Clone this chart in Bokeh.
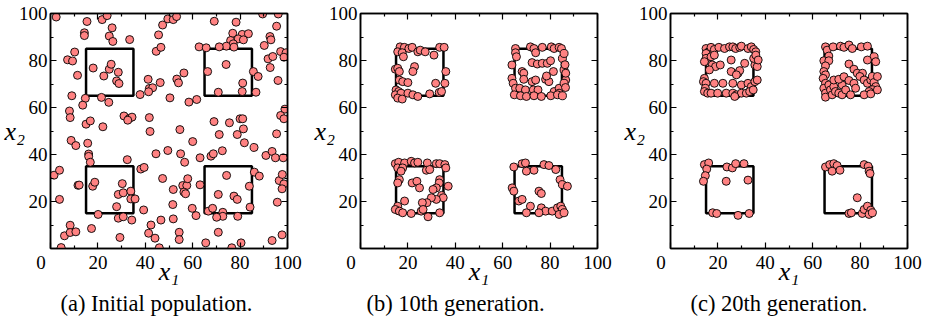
from bokeh.plotting import figure
from bokeh.models import Range1d, LinearAxis, FixedTicker, Title
from bokeh.layouts import row
from bokeh.embed import file_html
from bokeh.resources import INLINE

# ---------------- data ----------------
# (a) initial population
a_x = [2.4, 15.4, 21.8, 23.9, 26.0, 14.3, 14.3, 24.8, 26.3, 33.4,
       10.2, 7.2, 9.3, 11.4, 18.0, 22.5, 24.8, 25.6, 28.6, 27.9,
       28.9, 9.0, 14.7, 21.5, 24.6, 13.6, 8.0, 8.3, 15.0, 16.8,
       22.1, 31.0, 33.2, 34.4, 32.6, 41.7, 37.8, 41.2, 41.7, 43.1,
       41.4, 46.3, 44.6, 46.6, 45.6, 47.3, 49.5, 42.0,
       8.7, 10.7, 15.7, 16.1, 16.1, 16.8, 32.4, 38.1, 39.5, 44.5, 49.5,
       1.5, 3.8, 11.6, 12.1, 17.8, 18.7, 3.8, 30.3, 28.6, 30.7, 33.9, 33.9, 35.7,
       27.9, 20.1, 28.6, 30.7, 34.3, 39.3, 17.3, 8.3, 5.9, 8.3, 10.7, 4.5,
       29.3, 42.4, 41.4, 44.1, 46.6, 45.9, 47.3,
       51.8, 53.2, 69.1, 78.3, 89.5, 96.1, 95.4, 76.9, 80.9, 83.5,
       76.0, 79.2, 81.4, 77.1, 74.2, 77.4, 71.2, 62.7, 65.7, 90.2,
       92.6, 93.0, 97.1, 99.4, 91.8, 93.8, 92.7, 98.5, 66.3, 74.1,
       85.6, 87.6, 81.1, 70.8, 80.9, 86.7, 96.0, 50.4, 58.4, 61.7,
       98.9, 97.1, 98.5, 69.0, 75.5, 80.0, 81.1, 81.4, 54.6, 53.3,
       54.0, 56.3,
       71.2, 78.8, 95.4, 60.0, 81.8, 85.9, 54.9, 56.6, 63.1, 67.7,
       68.7, 72.5, 90.9, 93.5, 94.9, 98.2, 51.8, 55.8, 57.5, 56.3,
       57.9, 63.1, 74.3, 70.8, 77.4, 78.8, 83.9, 86.0, 88.1, 96.5,
       97.8, 98.5, 97.7, 95.7, 84.2, 66.6, 68.4, 72.7, 72.7, 70.1,
       79.0, 51.6, 61.4, 59.8, 54.3, 54.3, 70.8, 65.5, 76.5, 80.4,
       93.5, 97.7, 51.8, 57.0]
a_y = [98.5, 96.6, 97.4, 99.1, 93.9, 91.8, 90.6, 90.4, 88.1, 88.9,
       83.6, 80.3, 79.8, 73.7, 76.8, 73.4, 76.3, 78.4, 75.0, 71.3,
       70.2, 65.0, 63.9, 64.3, 62.2, 61.0, 58.5, 55.7, 52.9, 54.3,
       51.8, 56.4, 55.3, 55.9, 54.6, 55.7, 65.5, 72.0, 68.1, 68.4,
       66.7, 70.6, 83.9, 85.6, 90.9, 95.1, 97.7, 49.8,
       46.0, 43.8, 44.8, 40.2, 39.2, 36.7, 37.8, 33.8, 34.5, 40.3, 41.7,
       31.2, 33.3, 26.9, 27.0, 26.5, 28.2, 20.9, 27.6, 23.0, 23.7, 24.4, 21.1, 21.1,
       17.8, 14.5, 12.9, 13.5, 12.1, 16.4, 8.5, 9.9, 5.4, 6.8, 7.1, 0.4,
       4.7, 10.0, 6.5, 4.4, 12.1, 0.3, 29.8,
       97.4, 98.7, 96.7, 96.3, 99.8, 99.8, 94.6, 91.6, 91.1, 91.4,
       88.5, 89.2, 88.8, 87.1, 86.1, 85.7, 85.8, 85.8, 85.4, 86.4,
       90.2, 88.8, 83.8, 83.3, 80.7, 81.7, 77.0, 81.4, 75.3, 78.3,
       75.3, 73.2, 70.4, 66.5, 66.8, 66.5, 71.5, 64.1, 62.3, 63.4,
       59.3, 56.6, 55.2, 54.0, 53.5, 55.2, 55.2, 50.9, 50.6, 72.1,
       70.5, 74.7,
       48.5, 48.5, 48.8, 45.5, 45.0, 43.0, 40.3, 36.7, 38.6, 39.3,
       40.3, 41.6, 39.6, 41.3, 38.6, 38.6, 25.1, 26.8, 26.8, 24.0,
       29.7, 27.1, 31.1, 23.0, 22.3, 20.9, 26.5, 32.5, 30.8, 28.9,
       31.5, 27.5, 25.4, 19.7, 17.6, 15.9, 17.1, 15.4, 13.7, 13.3,
       13.7, 18.7, 14.0, 17.1, 6.9, 3.8, 6.9, 2.4, 0.3, 2.4,
       3.4, 5.8, 12.6, 23.3]

# (b) 10th generation
b_x = [16.7, 15.7, 18.5, 17.6, 18.1, 20.4, 21.8, 24.2, 25.2, 27.3,
       33.4, 35.3, 31.0, 14.7, 15.7, 16.4, 22.8, 22.1, 36.0, 16.4,
       17.8, 20.0, 31.7, 35.6, 15.0, 16.1, 14.7, 17.1, 15.7, 17.6,
       20.0, 22.1, 24.2, 29.2, 33.2, 34.2,
       65.4, 65.4, 65.8, 71.7, 73.2, 73.9, 76.7, 80.5, 81.7, 83.8,
       84.8, 85.2, 72.4, 74.6, 76.7, 78.8, 80.2, 81.4, 85.9, 63.9,
       68.2, 68.9, 68.9, 72.4, 73.9, 78.1, 79.5, 78.5, 63.9, 64.4,
       65.4, 67.2, 69.6, 72.9, 74.9, 81.7, 83.8, 83.8, 86.6, 85.9,
       64.9, 67.5, 70.0, 73.2, 76.3, 80.3, 83.1, 85.2, 86.6, 85.9,
       86.3, 86.5,
       14.7, 16.1, 18.6, 21.4, 22.8, 24.2, 28.2, 32.0, 33.4, 35.6,
       36.0, 15.7, 17.8, 17.1, 27.8, 29.2, 16.4, 15.7, 21.8, 23.8,
       24.9, 33.4, 33.2, 32.0, 30.6, 37.0, 34.2, 34.9, 32.0, 29.9,
       28.0, 26.1, 18.6, 15.7, 14.7, 16.4, 17.8, 21.4, 25.6, 26.4,
       28.5, 33.4,
       64.7, 68.2, 69.6, 73.2, 70.0, 77.4, 79.5, 82.4, 64.0, 64.7,
       75.3, 76.3, 66.8, 68.2, 71.7, 70.0, 76.3, 78.1, 80.9, 83.1,
       84.5, 85.2, 83.8, 85.9, 75.3, 84.2, 85.2, 87.3]
b_y = [85.8, 83.7, 85.6, 83.3, 81.6, 85.1, 85.6, 83.7, 84.4, 83.7,
       85.6, 85.6, 82.3, 76.3, 76.7, 75.3, 77.4, 75.3, 75.3, 71.7,
       71.0, 70.6, 70.3, 70.3, 67.5, 66.8, 65.4, 66.1, 64.0, 63.6,
       66.1, 65.4, 64.7, 65.8, 66.4, 66.8,
       85.1, 83.3, 81.6, 85.8, 85.1, 83.3, 85.6, 85.8, 85.1, 85.6,
       85.1, 80.9, 79.1, 78.5, 78.8, 78.8, 79.9, 75.3, 76.0, 78.1,
       75.3, 74.6, 72.0, 71.0, 71.7, 72.0, 71.0, 73.4, 72.4, 70.3,
       68.2, 68.2, 67.5, 67.5, 67.5, 66.8, 68.2, 66.1, 71.7, 70.3,
       65.4, 65.0, 64.7, 65.0, 64.7, 65.0, 65.4, 65.0, 74.6, 83.0,
       78.2, 68.5,
       36.1, 36.7, 36.4, 37.1, 36.4, 36.7, 36.4, 36.1, 36.1, 35.7,
       34.3, 34.3, 34.3, 32.9, 33.3, 33.6, 29.3, 27.9, 27.9, 28.6,
       25.8, 29.3, 27.9, 25.8, 25.1, 26.5, 22.6, 21.6, 20.9, 21.6,
       19.5, 19.5, 20.2, 18.0, 16.6, 15.9, 15.2, 14.9, 15.9, 16.6,
       13.5, 15.2,
       34.7, 36.1, 36.4, 33.3, 32.9, 35.7, 35.3, 33.6, 25.8, 24.4,
       24.4, 23.4, 20.2, 20.9, 18.0, 15.2, 17.3, 15.9, 15.9, 17.3,
       18.0, 16.6, 14.5, 15.2, 15.2, 29.3, 27.2, 26.5]

# (c) 20th generation
c_x = [15.0, 16.1, 17.1, 18.5, 20.4, 22.8, 24.9, 26.3, 27.5, 29.2,
       29.9, 32.7, 34.1, 35.1, 36.0, 15.0, 15.0, 17.1, 18.5, 14.3,
       17.6, 19.0, 21.0, 16.4, 25.6, 31.3, 25.6, 28.5, 29.2, 27.8,
       35.6, 36.6, 35.1, 36.0, 37.0, 14.3, 13.9, 15.0, 14.7, 18.5,
       22.1, 26.3, 29.9, 32.7, 34.1, 35.6, 36.6, 14.3, 15.7, 17.1,
       19.9, 23.5, 26.3, 27.8, 29.9, 32.0, 33.4, 34.9, 27.1,
       65.4, 66.1, 66.8, 68.6, 71.7, 73.2, 75.3, 76.7, 80.5, 83.1,
       85.9, 86.6, 83.1, 64.7, 66.8, 65.4, 75.3, 77.4, 64.7, 65.4,
       64.4, 65.4, 64.7, 65.4, 65.4, 66.8, 67.5, 68.2, 68.9, 69.6,
       71.0, 72.4, 72.4, 73.9, 76.0, 68.9, 71.0, 73.2, 75.3, 77.4,
       78.8, 81.0, 79.9, 81.7, 83.1, 84.5, 85.2, 85.9, 87.3, 86.6,
       85.2, 83.8, 81.7, 84.5, 87.3, 78.1,
       14.3, 16.1, 15.3, 14.7, 13.9, 23.8, 26.1, 27.5, 31.0, 23.5,
       32.7, 17.8, 19.5, 28.5, 33.2,
       65.4, 67.2, 68.9, 70.3, 68.2, 71.5, 81.7, 83.4, 83.8, 84.2,
       78.8, 75.3, 76.3, 80.9, 81.7, 83.1, 84.5, 83.8, 85.2]
c_y = [85.1, 83.7, 85.6, 84.7, 85.6, 85.1, 85.8, 85.8, 85.1, 85.6,
       86.1, 85.1, 85.8, 84.7, 83.7, 83.0, 80.9, 81.6, 82.3, 79.5,
       78.1, 77.4, 78.1, 76.0, 80.2, 78.8, 75.3, 74.6, 75.7, 73.9,
       78.1, 77.4, 80.9, 82.3, 80.2, 72.4, 71.0, 70.3, 68.2, 70.3,
       70.3, 70.3, 69.6, 70.3, 68.9, 71.0, 71.7, 66.8, 66.1, 66.1,
       66.1, 66.1, 66.1, 65.4, 66.1, 66.1, 66.8, 67.5, 64.7,
       85.8, 84.4, 81.9, 85.8, 86.1, 85.6, 86.6, 85.1, 85.8, 86.1,
       81.6, 79.5, 80.2, 79.9, 79.9, 77.7, 78.5, 76.3, 75.3, 73.9,
       72.4, 70.3, 68.2, 66.1, 64.4, 69.6, 67.5, 65.4, 68.9, 66.8,
       66.1, 65.4, 69.6, 67.5, 65.4, 71.7, 72.0, 73.1, 71.5, 70.3,
       74.6, 74.6, 73.2, 71.7, 70.3, 71.7, 73.2, 70.6, 73.2, 68.9,
       67.5, 66.8, 65.4, 65.8, 67.5, 68.2,
       35.7, 36.4, 33.8, 31.0, 28.6, 34.7, 34.3, 36.1, 36.1, 28.6,
       29.1, 15.2, 14.9, 14.1, 14.9,
       34.7, 35.7, 36.1, 35.3, 32.9, 33.3, 35.7, 35.0, 32.9, 31.9,
       21.6, 14.9, 15.2, 14.9, 16.6, 18.0, 16.3, 14.5, 15.2]

# target regions (squares)
box_left = [15, 65, 15, 65]
box_right = [35, 85, 35, 85]
box_bottom = [65, 65, 15, 15]
box_top = [85, 85, 35, 35]

x_major_ticks = [0, 20, 40, 60, 80, 100]
y_major_ticks = [20, 40, 60, 80, 100]
minor_ticks = [10, 30, 50, 70, 90]
x_axis_title = "x\u2081"
y_axis_title = "x\u2082"
captions = ["(a) Initial population.", "(b) 10th generation.", "(c) 20th generation."]

# ---------------- styling / layout ----------------
FONT = "Liberation Serif"
FILL = "#FF8282"
caption_offsets = [10, 6, 20]
widths = [310, 310, 307]
right_borders = [23, 23, 20]


def style_axis(ax, ticks, labels):
    ax.ticker = FixedTicker(ticks=ticks, minor_ticks=minor_ticks)
    ax.axis_line_color = "black"
    ax.axis_line_width = 1.5
    ax.major_tick_in = 6
    ax.major_tick_out = 0
    ax.minor_tick_in = 3
    ax.minor_tick_out = 0
    ax.major_tick_line_width = 1.2
    ax.minor_tick_line_width = 1.2
    ax.major_tick_line_color = "black"
    ax.minor_tick_line_color = "black"
    ax.major_label_text_font = FONT
    if labels:
        ax.major_label_text_color = "black"
        ax.major_label_text_font_size = "19px"
        ax.major_label_standoff = 3
    else:
        ax.major_label_text_color = None
        ax.major_label_text_font_size = "1px"
        ax.major_label_standoff = 0


def make_panel(i, xs, ys):
    p = figure(width=widths[i], height=320, x_range=Range1d(0, 100), y_range=Range1d(0, 100),
               x_axis_type=None, y_axis_type=None, output_backend="svg", toolbar_location=None,
               min_border_left=50, min_border_right=right_borders[i], min_border_top=13,
               min_border_bottom=72)
    p.grid.visible = False
    p.outline_line_color = "black"
    p.outline_line_width = 1.5
    p.background_fill_color = "white"
    p.border_fill_color = "white"

    xb = LinearAxis()
    style_axis(xb, x_major_ticks, True)
    xb.major_label_overrides = {0: "0" + "\u00a0" * 4}
    xb.axis_label = x_axis_title
    xb.axis_label_text_font = FONT
    xb.axis_label_text_font_style = "italic"
    xb.axis_label_text_font_size = "26px"
    xb.axis_label_text_color = "black"
    xb.axis_label_standoff = -19
    p.add_layout(xb, "below")

    yl = LinearAxis()
    style_axis(yl, y_major_ticks, True)
    yl.axis_label = y_axis_title
    yl.axis_label_orientation = "horizontal"
    yl.axis_label_text_font = FONT
    yl.axis_label_text_font_style = "italic"
    yl.axis_label_text_font_size = "26px"
    yl.axis_label_text_color = "black"
    yl.axis_label_standoff = -9
    p.add_layout(yl, "left")

    xt = LinearAxis()
    style_axis(xt, x_major_ticks, False)
    p.add_layout(xt, "above")
    yr = LinearAxis()
    style_axis(yr, y_major_ticks, False)
    p.add_layout(yr, "right")

    cap = Title(text=captions[i], align="left", offset=caption_offsets[i],
                text_font=FONT, text_font_size="22.5px", text_font_style="normal",
                text_color="black", standoff=0)
    p.add_layout(cap, "below")

    p.quad(left=box_left, right=box_right, bottom=box_bottom, top=box_top,
           fill_alpha=0, line_color="black", line_width=2.5)
    p.scatter(xs, ys, size=8, fill_color=FILL, line_color="black", line_width=0.9)
    return p


panels = [make_panel(0, a_x, a_y), make_panel(1, b_x, b_y), make_panel(2, c_x, c_y)]
layout = row(*panels)
open("out.html", "w").write(file_html(layout, INLINE))
